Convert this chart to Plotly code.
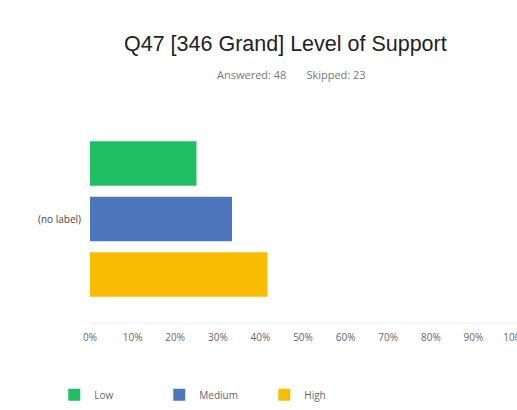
import plotly.graph_objects as go

# Survey results for Q47 (48 answered, 23 skipped)
category = ["(no label)"]
levels = ["Low", "Medium", "High"]
shares = [25.0, 33.33, 41.67]          # percent of respondents
colors = ["#21BF63", "#4C77BC", "#F8BD00"]
x_ticks = list(range(0, 101, 10))
x_tick_text = [f"{t}%" for t in x_ticks]

fig = go.Figure()
# Horizontal grouped bars stack bottom-up, so add in reverse to keep Low on top
for name, val, col in reversed(list(zip(levels, shares, colors))):
    fig.add_trace(go.Bar(
        y=category, x=[val], name=name, orientation="h",
        marker=dict(color=col, line=dict(width=0)),
        hovertemplate="%{x:.2f}%<extra>" + name + "</extra>",
    ))

font_family = "Open Sans, Liberation Sans, Arial, sans-serif"

fig.update_layout(
    width=517, height=410,
    margin=dict(l=90, r=1, t=130, b=102, autoexpand=False),
    paper_bgcolor="white", plot_bgcolor="white",
    barmode="group", bargap=0.065, bargroupgap=0.2,
    font=dict(family=font_family, color="#555555", size=10),
    showlegend=True,
    legend=dict(
        orientation="h", traceorder="reversed",
        x=0.105, xanchor="left", xref="container",
        y=0.037, yanchor="middle", yref="container",
        entrywidth=60, entrywidthmode="pixels",
        font=dict(size=10, color="#666666"),
    ),
    xaxis=dict(
        range=[0, 100], tickvals=x_ticks, ticktext=x_tick_text,
        showgrid=False, zeroline=False, showline=False, automargin=False,
        ticks="", ticklabelstandoff=22, ticklabeloverflow="allow",
        tickfont=dict(size=10, color="#666666"),
        fixedrange=True,
    ),
    yaxis=dict(
        showgrid=False, zeroline=False, showline=False, ticks="", automargin=False,
        tickfont=dict(size=10, color="#444444"), ticklabelstandoff=8,
        fixedrange=True,
    ),
    annotations=[
        dict(text="Q47 [346 Grand] Level of Support", xref="paper", yref="paper",
             x=0.458, y=1.0, yanchor="bottom", xanchor="center", showarrow=False,
             yshift=72, font=dict(size=21.5, color="#222222",
                                  family="Liberation Sans, Arial, sans-serif")),
        dict(text="Answered: 48&nbsp;&nbsp;&nbsp;&nbsp;&nbsp;&nbsp;&nbsp;Skipped: 23",
             xref="paper", yref="paper",
             x=0.472, y=1.0, yanchor="bottom", xanchor="center", showarrow=False,
             yshift=46, font=dict(size=11, color="#777777")),
    ],
    shapes=[
        dict(type="line", xref="paper", yref="paper", x0=0, x1=1, y0=-0.085, y1=-0.085,
             line=dict(color="#EEEEEE", width=1)),
    ],
)

fig.write_html("out.html")
